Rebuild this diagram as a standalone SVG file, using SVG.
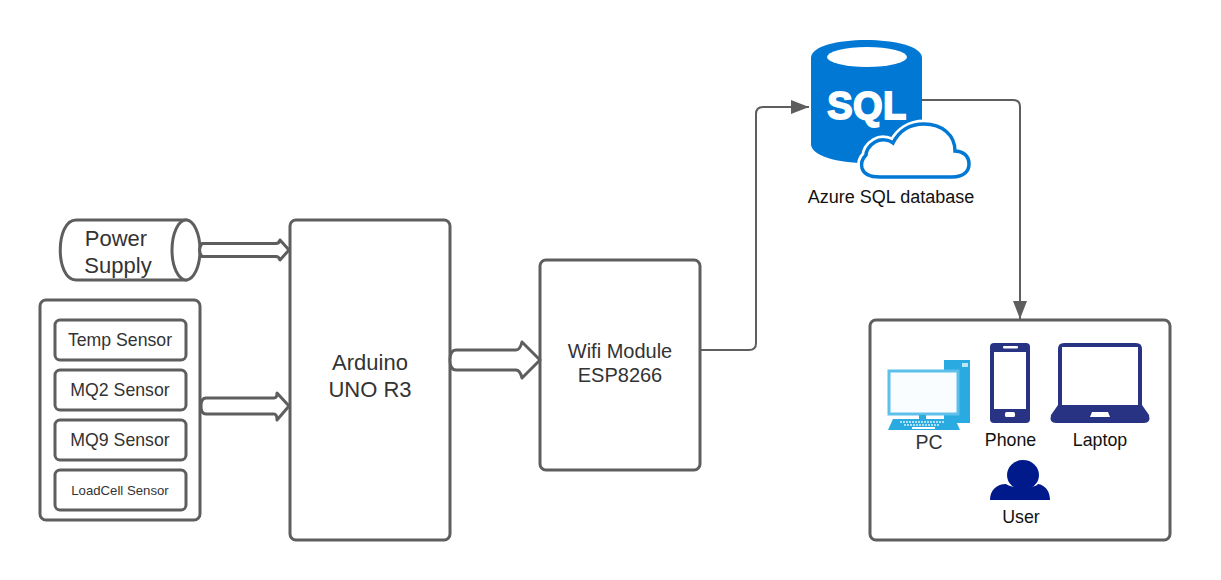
<svg xmlns="http://www.w3.org/2000/svg" width="1221" height="580" viewBox="0 0 1221 580">
<style>
.b{fill:#fff;stroke:#5e5e5e;stroke-width:3}
.a{fill:#fff;stroke:#5e5e5e;stroke-width:3;stroke-linejoin:round}
.c{fill:none;stroke:#5e5e5e;stroke-width:2}
.t{font-family:"Liberation Sans",Arial,sans-serif;fill:#333;text-anchor:middle}
.k{font-family:"Liberation Sans",Arial,sans-serif;fill:#111;text-anchor:middle}
</style>
<defs><marker id="ah" markerUnits="userSpaceOnUse" markerWidth="20" markerHeight="14" refX="18" refY="7" orient="auto"><path d="M0 0L18 7L0 14Z" fill="#5e5e5e"/></marker></defs>
<rect width="1221" height="580" fill="#fff"/>
<g id="power-supply">
<path class="b" d="M76 220H186V280H76C55 280 55 220 76 220Z"/>
<ellipse class="b" cx="186" cy="250" rx="14" ry="30"/>
<text class="t" font-size="22"><tspan x="116" y="246">Power</tspan><tspan x="118" y="273">Supply</tspan></text>
</g>
<g id="sensors">
<rect class="b" x="40" y="300" width="160" height="220" rx="6"/>
<rect class="b" x="55" y="320" width="131" height="40" rx="5"/>
<text class="t" x="120" y="346" font-size="17.700">Temp Sensor</text>
<rect class="b" x="55" y="370" width="131" height="40" rx="5"/>
<text class="t" x="120" y="396" font-size="17.700">MQ2 Sensor</text>
<rect class="b" x="55" y="420" width="131" height="40" rx="5"/>
<text class="t" x="120" y="446" font-size="17.700">MQ9 Sensor</text>
<rect class="b" x="55" y="470" width="131" height="40" rx="5"/>
<text class="t" x="120" y="495" font-size="13.200">LoadCell Sensor</text>
</g>
<g id="arduino">
<rect class="b" x="290" y="220" width="160" height="320" rx="6"/>
<text class="t" font-size="22"><tspan x="370" y="370">Arduino</tspan><tspan x="370" y="397">UNO R3</tspan></text>
</g>
<g id="wifi">
<rect class="b" x="540" y="260" width="160" height="210" rx="6"/>
<text class="t" font-size="20"><tspan x="620" y="358">Wifi Module</tspan><tspan x="620" y="382">ESP8266</tspan></text>
</g>
<g id="sql">
<path fill="#0078d4" d="M811 58C811 46 838 40 866 40C894 40 922 46 922 58V144C922 156 894 163 866 163C838 163 811 156 811 144Z"/>
<ellipse cx="867" cy="57" rx="40" ry="10" fill="#fff"/>
<text x="867" y="119" font-family="'Liberation Sans',Arial,sans-serif" font-weight="700" font-size="38" fill="#fff" text-anchor="middle" stroke="#fff" stroke-width="1.800" letter-spacing="0.500">SQL</text>
<path id="cloud-halo" d="M880 177H952C965 177 969 170 969 164C969 155 962 151 955 151C955 135 942 124 924 124C910 124 899 131 893 143C888 139 880 139 875 142C868 146 866 152 866 155C862 159 861 164 862 168C864 175 871 177 880 177Z" fill="#fff" stroke="#fff" stroke-width="9"/>
<path d="M880 177H952C965 177 969 170 969 164C969 155 962 151 955 151C955 135 942 124 924 124C910 124 899 131 893 143C888 139 880 139 875 142C868 146 866 152 866 155C862 159 861 164 862 168C864 175 871 177 880 177Z" fill="#fff" stroke="#0078d4" stroke-width="3.500"/>
<text class="k" x="891" y="203" font-size="18">Azure SQL database</text>
</g>
<g id="users">
<rect class="b" x="870" y="320" width="300" height="220" rx="6"/>
<g id="pc">
<rect x="944" y="360" width="26" height="63" fill="#29abe2"/>
<rect x="962" y="363" width="6" height="4" fill="#bde6f7"/>
<rect x="889" y="371" width="69" height="43" fill="#fafdff" stroke="#5cc0ea" stroke-width="3"/>
<rect x="919" y="415" width="7" height="4" fill="#29abe2"/>
<path d="M893 419H955L960 430H888Z" fill="#29abe2"/>
<path d="M900 422H945M904 425H940" stroke="#d8f0fa" stroke-width="1.500" stroke-dasharray="2 1"/>
<rect x="912" y="427" width="23" height="2" fill="#fff"/>
<text class="t" x="929" y="449" font-size="19.500">PC</text>
</g>
<g id="phone">
<rect x="990" y="343" width="40" height="80" rx="4" fill="#293384"/>
<rect x="994" y="352" width="32" height="57" fill="#fff"/>
<rect x="1003" y="346" width="15" height="2.500" rx="1" fill="#fff"/>
<rect x="1005" y="412" width="10" height="5" rx="1.500" fill="#fff"/>
<text class="k" x="1010.500" y="446" font-size="17.800">Phone</text>
</g>
<g id="laptop">
<path d="M1064 343H1136Q1142 343 1142 349V405L1149 415Q1151 423 1144 423H1056Q1049 423 1051 415L1058 405V349Q1058 343 1064 343Z" fill="#293384"/>
<rect x="1062" y="347" width="76" height="58" fill="#fff"/>
<path d="M1092 412H1108L1110 417H1090Z" fill="#fff"/>
<text class="k" x="1100" y="446" font-size="17.800">Laptop</text>
</g>
<g id="user">
<ellipse cx="1023" cy="475" rx="16" ry="15" fill="#001a8c"/>
<path d="M990 500C990 490 997 484 1006 484C1012 489 1034 489 1038 484C1045 485 1050 491 1050 500Z" fill="#001a8c"/>
<text class="k" x="1021" y="523" font-size="17.800">User</text>
</g>
</g>
<g id="connectors">
<path class="c" d="M701 350H749Q756 350 756 343V114Q756 107 763 107H809" marker-end="url(#ah)"/>
<path class="c" d="M921 100H1013Q1020 100 1020 107V319" marker-end="url(#ah)"/>
<path class="a" d="M202 243.500H276Q279 243.500 280 240L289 250L280 260Q279 256.500 276 256.500H202Q197 250 202 243.500Z"/>
<path class="a" d="M206 398H274Q277 398 277 393L289 406L277 420Q277 414 274 414H206Q201 414 201 406Q201 398 206 398Z"/>
<path class="a" d="M456 350H516Q520 350 522 342L540 360L522 378Q520 370 516 370H456Q450 370 450 360Q450 350 456 350Z"/>
</g>
</svg>
